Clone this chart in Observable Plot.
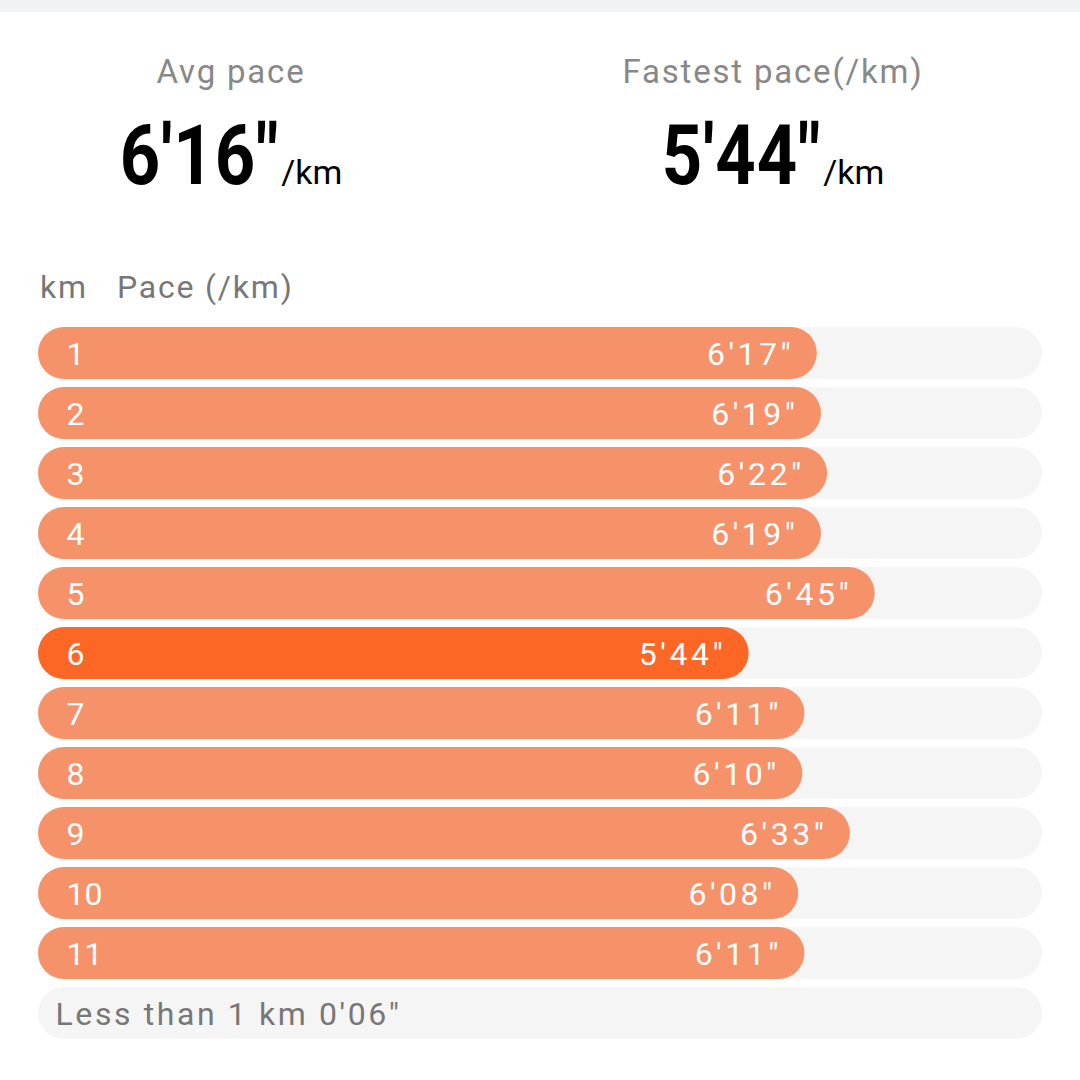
<!DOCTYPE html>
<html>
<head>
<meta charset="utf-8">
<script src="https://cdn.jsdelivr.net/npm/d3@7"></script>
<script src="https://cdn.jsdelivr.net/npm/@observablehq/plot@0.6"></script>
<style>
  html, body { margin: 0; padding: 0; background: #fff; }
  #page { position: relative; width: 1080px; height: 1080px; overflow: hidden; font-family: Roboto, "Noto Sans", sans-serif; }
  #band { position: absolute; left: 0; top: 0; width: 1080px; height: 12px; background: #f1f2f4; }
  .lbl { position: absolute; color: #888; font-size: 33px; letter-spacing: 1.8px; white-space: nowrap; transform: translateX(-50%); }
  .big { position: absolute; color: #000; white-space: nowrap; transform: translateX(-50%); }
  .big .num { display: inline-block; font-size: 84px; font-weight: bold; font-family: Roboto, sans-serif; transform: scaleX(0.84); transform-origin: left center; letter-spacing: 1px; }
  .big .unit { font-size: 34px; font-family: Roboto, sans-serif; }
  .col { position: absolute; top: 268px; color: #777; font-size: 32px; letter-spacing: 1.8px; white-space: pre; }
  #chart { position: absolute; left: 0; top: 0; }
</style>
</head>
<body>
<div id="page">
  <div id="band"></div>
  <div id="chart"></div>
  <div class="lbl" id="avgLbl" style="left:231px; top:52px;"></div>
  <div class="big" id="avgVal" style="left:231px; top:106px;"></div>
  <div class="lbl" id="fastLbl" style="left:773px; top:52px;"></div>
  <div class="big" id="fastVal" style="left:773px; top:106px;"></div>
  <div class="col" id="colKm" style="left:40px;"></div>
  <div class="col" id="colPace" style="left:117px;"></div>
</div>
<script>
// ---- data ----
const kmLabels = ["1", "2", "3", "4", "5", "6", "7", "8", "9", "10", "11"];
const paceSeconds = [377, 379, 382, 379, 405, 344, 371, 370, 393, 368, 371];
const paceLabels = ["6'17\"", "6'19\"", "6'22\"", "6'19\"", "6'45\"", "5'44\"", "6'11\"", "6'10\"", "6'33\"", "6'08\"", "6'11\""];
const remainderLabel = "Less than 1 km 0'06\"";
const avgPaceLabel = "Avg pace";
const avgPace = "6'16\"";
const fastestPaceLabel = "Fastest pace(/km)";
const fastestPace = "5'44\"";
const unitLabel = "/km";
const columnKm = "km";
const columnPace = "Pace (/km)";
const trackMax = 486;

// ---- header text ----
document.getElementById("avgLbl").textContent = avgPaceLabel;
document.getElementById("fastLbl").textContent = fastestPaceLabel;
document.getElementById("colKm").textContent = columnKm;
document.getElementById("colPace").textContent = columnPace;
for (const [id, v] of [["avgVal", avgPace], ["fastVal", fastestPace]]) {
  const el = document.getElementById(id);
  const n = document.createElement("span"); n.className = "num"; n.textContent = v;
  const u = document.createElement("span"); u.className = "unit"; u.textContent = unitLabel;
  el.append(n, u);
  const w = n.getBoundingClientRect().width;   // already scaled width
  n.style.marginRight = (w - n.offsetWidth + 2) + "px";
}

// ---- table ----
const fastest = d3.min(paceSeconds);
const rows = kmLabels.map((k, i) => ({ km: k, sec: paceSeconds[i], label: paceLabels[i], fast: paceSeconds[i] === fastest }));
const remainderKey = "rest";
const domain = [...kmLabels, remainderKey];
const tracks = domain.map(k => ({ km: k }));

const chart = Plot.plot({
  width: 1080,
  height: 1080,
  marginTop: 323,
  marginBottom: 37,
  marginLeft: 38,
  marginRight: 38,
  x: { domain: [0, trackMax], axis: null },
  y: { domain, axis: null, paddingInner: 8 / 60, paddingOuter: 4 / 60 },
  style: { fontFamily: "Roboto, 'Noto Sans', sans-serif", background: "transparent" },
  marks: [
    Plot.barX(tracks, { y: "km", x1: 0, x2: trackMax, fill: "#f5f5f5", rx: 26 }),
    Plot.barX(rows, { y: "km", x1: 0, x2: "sec", fill: d => d.fast ? "#fd6726" : "#f6926a", rx: 26 }),
    Plot.text(rows, { y: "km", x: 0, text: "km", textAnchor: "start", dx: 28, fill: "white", fontSize: 32, dy: 1 }),
    Plot.text(rows, { y: "km", x: "sec", text: "label", textAnchor: "end", dx: -23, fill: "white", fontSize: 32, dy: 1 }),
    Plot.text([remainderKey], { y: d => d, x: 0, text: () => remainderLabel, textAnchor: "start", dx: 17, fill: "#777", fontSize: 32, dy: 1 })
  ]
});
// widen tracking of the pace labels and remainder text, like the reference font
d3.select(chart).selectAll("text")
  .filter(function () { return paceLabels.includes(this.textContent); })
  .style("letter-spacing", "3.5px");
d3.select(chart).selectAll("text")
  .filter(function () { return this.textContent === remainderLabel; })
  .style("letter-spacing", "2.6px");
document.getElementById("chart").append(chart);
</script>
</body>
</html>
